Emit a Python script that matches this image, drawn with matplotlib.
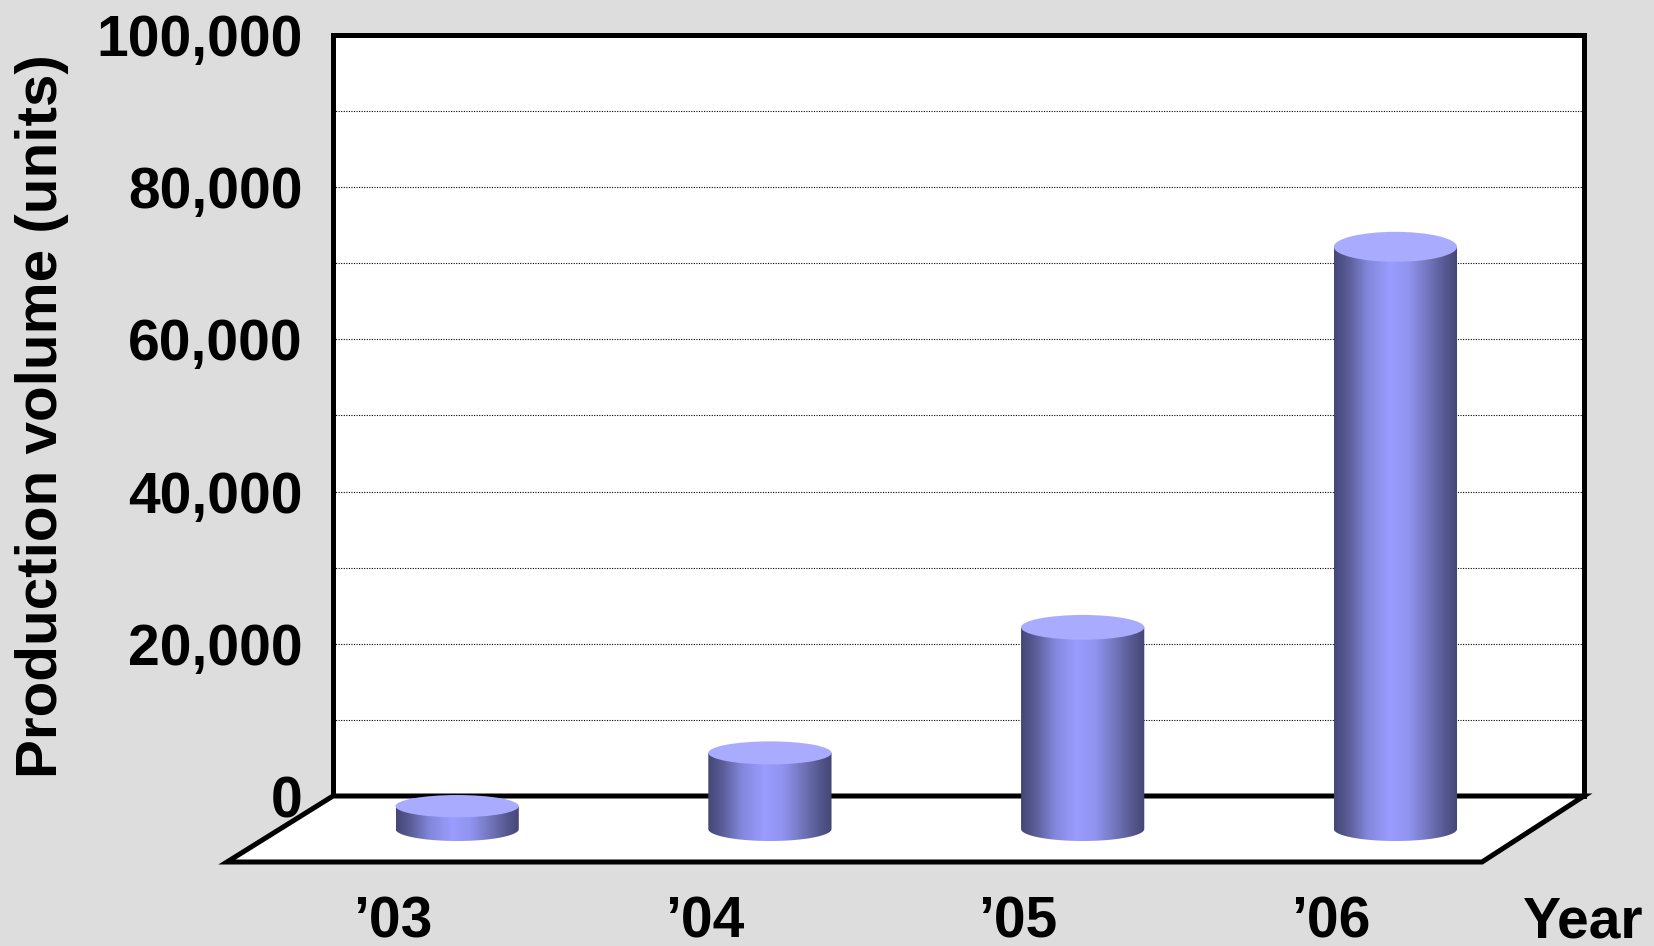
import numpy as np
import matplotlib
matplotlib.use("Agg")
import matplotlib.pyplot as plt
from matplotlib.patches import Polygon, Ellipse
from matplotlib.colors import LinearSegmentedColormap
from matplotlib.ticker import FuncFormatter, MultipleLocator, FixedLocator

# ---- data -------------------------------------------------------------
years = ["\u201903", "\u201904", "\u201905", "\u201906"]
production = [3000, 10000, 26500, 76500]
y_major_ticks = list(range(0, 100001, 20000))
y_title = "Production volume (units)"
x_title = "Year"

# ---- style ------------------------------------------------------------
plt.rcParams["font.family"] = ["Liberation Sans", "DejaVu Sans"]
plt.rcParams["font.weight"] = "bold"
BG = "#DDDDDD"
TOP_COLOR = "#A9ABFF"
body_cmap = LinearSegmentedColormap.from_list(
    "cyl",
    [(0.00, "#444776"), (0.12, "#5B5E98"), (0.27, "#8387DB"),
     (0.45, "#9A9CFF"), (0.60, "#9194F0"), (0.76, "#7376BC"),
     (0.90, "#55588F"), (1.00, "#444674")])

W, H = 1654, 946
fig = plt.figure(figsize=(W / 100, H / 100), dpi=100, facecolor=BG)

# back wall geometry (pixels)
wall_l, wall_r, wall_t, wall_b = 333, 1584, 35, 796
floor_room = 80
ppu = (wall_b - wall_t) / 100000.0          # pixels per value unit
cat_px = (wall_r - wall_l) / 4.0            # pixels per category

# ---- back wall axes ----------------------------------------------------
ax = fig.add_axes([wall_l / W, 1 - wall_b / H,
                   (wall_r - wall_l) / W, (wall_b - wall_t) / H])
ax.set_facecolor("white")
ax.set_xlim(-0.5, 3.5)
ax.set_ylim(0, 100000)
ax.set_xticks([])
ax.yaxis.set_major_locator(FixedLocator(y_major_ticks))
ax.yaxis.set_minor_locator(MultipleLocator(10000))
ax.yaxis.set_major_formatter(FuncFormatter(lambda v, p: f"{int(v):,}"))
ax.tick_params(axis="y", which="both", length=0, pad=22,
               labelsize=41)
for lab in ax.get_yticklabels():
    lab.set_fontweight("bold")
ax.grid(True, axis="y", which="both", color="black", lw=0.8,
        linestyle=(0, (1, 1.3)))
ax.set_axisbelow(True)
for sp in ax.spines.values():
    sp.set_linewidth(3.6)
    sp.set_color("black")

# ---- floor + cylinders axes (same scale, extended downwards) -----------
ax2 = fig.add_axes([wall_l / W, 1 - (wall_b + floor_room) / H,
                    (wall_r - wall_l) / W, (wall_b + floor_room - wall_t) / H])
ax2.set_facecolor("none")
for sp in ax2.spines.values():
    sp.set_visible(False)
ax2.set_yticks([])

depth_y = -(862 - wall_b) / ppu
floor_dx_left = -106 / cat_px
floor_dx_right = -102 / cat_px
floor = Polygon([(-0.5, 0), (3.5, 0), (3.5 + floor_dx_right, depth_y),
                 (-0.5 + floor_dx_left, depth_y)], closed=True,
                facecolor="white", edgecolor="black", lw=3.6,
                joinstyle="miter", clip_on=False, zorder=1)
ax2.add_patch(floor)

cyl_dx = -0.103
cyl_hw = 0.197
base = -(829 - wall_b) / ppu
bottom_eh = 12 / ppu
grad = body_cmap(np.linspace(0, 1, 256))[np.newaxis, :, :]

for i, v in enumerate(production):
    cx = i + cyl_dx
    x0, x1 = cx - cyl_hw, cx + cyl_hw
    yb, yt = base, base + v
    top_eh = (11 + 4 * v / max(production)) / ppu
    t = np.linspace(np.pi, 2 * np.pi, 80)
    arc = np.column_stack([cx + cyl_hw * np.cos(t), yb + bottom_eh * np.sin(t)])
    verts = np.vstack([[x0, yt], arc, [x1, yt]])
    body = Polygon(verts, closed=True, transform=ax2.transData,
                   facecolor="none", edgecolor="none")
    im = ax2.imshow(grad, extent=[x0, x1, yb - bottom_eh, yt],
                    aspect="auto", interpolation="bilinear", zorder=3)
    im.set_clip_path(body)
    ax2.add_patch(Ellipse((cx, yt), 2 * cyl_hw, 2 * top_eh,
                          facecolor=TOP_COLOR, edgecolor="none", zorder=4))

ax2.set_xlim(-0.5, 3.5)
ax2.set_ylim(-floor_room / ppu, 100000)
label_dx = -0.31
ax2.set_xticks([i + label_dx for i in range(len(years))])
ax2.set_xticklabels(years, fontsize=41, fontweight="bold")
ax2.tick_params(axis="x", length=0, pad=14)

ax2.annotate(x_title, xy=(1643 / W, 0),
             xycoords=("figure fraction", "axes fraction"),
             xytext=(0, -14), textcoords="offset points",
             ha="right", va="top", fontsize=41, fontweight="bold")

fig.text(42.5 / W, 1 - 416 / H, y_title, rotation=90, ha="center",
         va="center", fontsize=42, fontweight="bold")

fig.savefig("out.png", dpi=100, facecolor=BG)
